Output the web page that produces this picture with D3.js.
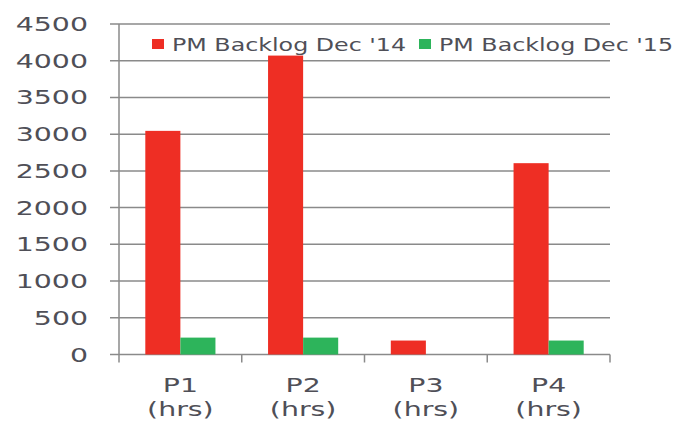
<!DOCTYPE html>
<html>
<head>
<meta charset="utf-8">
<script src="https://cdn.jsdelivr.net/npm/d3@7"></script>
<style>
  body { margin: 0; background: #fff; }
  svg { display: block; }
  text { font-family: "DejaVu Sans", Verdana, sans-serif; fill: #4f4f57; }
</style>
</head>
<body>
<svg id="chart" width="677" height="423"></svg>
<script>
// categories and series
const categories = ['P1', 'P2', 'P3', 'P4'];
const seriesNames = ["PM Backlog Dec '14", "PM Backlog Dec '15"];
const dec14 = [3045, 4070, 190, 2605];
const dec15 = [230, 230, 0, 190];
const yTicks = [0, 500, 1000, 1500, 2000, 2500, 3000, 3500, 4000, 4500];

const colors = ['#ee2e24', '#2db45b'];
const plotLeft = 119, plotRight = 610, plotTop = 24, plotBottom = 354.5;
const sx = 1.42; // the reference text is stretched sideways

const svg = d3.select('#chart');

const y = d3.scaleLinear().domain([0, 4500]).range([plotBottom, plotTop]);
const x0 = d3.scaleBand().domain(categories).range([plotLeft, plotRight]).paddingInner(0).paddingOuter(0);
const x1 = d3.scaleBand().domain(seriesNames).range([0, x0.bandwidth()]).paddingInner(0).paddingOuter(0.75);

// wide text helper: scale x around anchor point
function wideText(g, tx, ty, str, size, anchor) {
  return g.append('text')
    .attr('transform', `translate(${tx},${ty}) scale(${sx},1)`)
    .attr('text-anchor', anchor)
    .style('font-size', size + 'px')
    .text(str);
}

// gridlines
svg.append('g').selectAll('line')
  .data(yTicks)
  .enter().append('line')
  .attr('x1', plotLeft - 9).attr('x2', plotRight)
  .attr('y1', d => y(d)).attr('y2', d => y(d))
  .attr('stroke', '#8a8a8a').attr('stroke-width', 1.5);

// bars
const rows = categories.map((c, i) => ({ cat: c, vals: [dec14[i], dec15[i]] }));
const groups = svg.append('g').selectAll('g')
  .data(rows)
  .enter().append('g')
  .attr('transform', d => `translate(${x0(d.cat)},0)`);

groups.selectAll('rect')
  .data(d => d.vals.map((v, k) => ({ name: seriesNames[k], v: v, k: k })))
  .enter().append('rect')
  .attr('x', d => x1(d.name))
  .attr('width', x1.bandwidth())
  .attr('y', d => y(d.v))
  .attr('height', d => y(0) - y(d.v))
  .attr('fill', d => colors[d.k]);

// y axis line
svg.append('line')
  .attr('x1', plotLeft).attr('x2', plotLeft)
  .attr('y1', plotTop).attr('y2', plotBottom + 8)
  .attr('stroke', '#8a8a8a').attr('stroke-width', 1.5);

// x axis tick marks at category boundaries
const bounds = categories.map(c => x0(c) + x0.bandwidth());
svg.append('g').selectAll('line')
  .data(bounds)
  .enter().append('line')
  .attr('x1', d => d).attr('x2', d => d)
  .attr('y1', plotBottom).attr('y2', plotBottom + 8)
  .attr('stroke', '#8a8a8a').attr('stroke-width', 1.5);

// y tick labels
const yl = svg.append('g');
yTicks.forEach(t => wideText(yl, 88, y(t) + 7, String(t), 20, 'end'));

// x labels
const xl = svg.append('g');
categories.forEach(c => {
  const cx = x0(c) + x0.bandwidth() / 2;
  wideText(xl, cx, 392, c, 20, 'middle');
  wideText(xl, cx, 416, '(hrs)', 20, 'middle');
});

// legend
const leg = svg.append('g');
const legX = [152, 419];
seriesNames.forEach((n, k) => {
  leg.append('rect')
    .attr('x', legX[k]).attr('y', 39)
    .attr('width', 12).attr('height', 10)
    .attr('fill', colors[k]);
  leg.append('text')
    .attr('x', legX[k] + 20).attr('y', 51)
    .attr('textLength', 234)
    .attr('lengthAdjust', 'spacingAndGlyphs')
    .style('font-size', '17.5px')
    .text(n);
});
</script>
</body>
</html>
